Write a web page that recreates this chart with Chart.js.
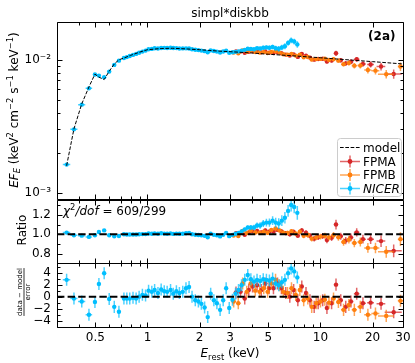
<!DOCTYPE html>
<html>
<head>
<meta charset="utf-8">
<script src="https://cdn.jsdelivr.net/npm/chart.js@4.4.1/dist/chart.umd.min.js"></script>
<style>
  html, body { margin: 0; padding: 0; background: #fff; }
  #wrap { position: relative; width: 415px; height: 363px; overflow: hidden; }
  canvas { position: absolute; left: 0; }
</style>
</head>
<body>
<div id="wrap">
  <canvas id="cFlux" width="415" height="201" style="top:0px"></canvas>
  <canvas id="cRatio" width="415" height="83" style="top:190px"></canvas>
  <canvas id="cResid" width="415" height="110" style="top:253px"></canvas>
</div>
<script>
// ---- data ----
const nicerE = [0.341, 0.376, 0.417, 0.459, 0.497, 0.524, 0.562, 0.601, 0.643, 0.684, 0.731,
  0.76, 0.79, 0.825, 0.86, 0.895, 0.935, 0.975, 1.015, 1.06, 1.10,
  1.15, 1.20, 1.25, 1.30, 1.36, 1.41, 1.47, 1.53, 1.60, 1.67,
  1.74, 1.81, 1.89, 1.97, 2.05, 2.14, 2.23, 2.32, 2.42, 2.52,
  2.63, 2.74, 2.85, 2.97, 3.10, 3.23, 3.36, 3.50, 3.65, 3.80,
  3.96, 4.13, 4.30, 4.48, 4.67, 4.87, 5.07, 5.29, 5.51, 5.74,
  5.98, 6.23, 6.50, 6.77, 7.05, 7.35];
const nicerEerr = [0.017, 0.018, 0.02, 0.02, 0.012, 0.012, 0.015, 0.015, 0.015, 0.015, 0.015,
  0.015, 0.016, 0.017, 0.017, 0.018, 0.019, 0.02, 0.02, 0.021, 0.022,
  0.023, 0.024, 0.025, 0.026, 0.027, 0.028, 0.029, 0.03, 0.032, 0.033,
  0.035, 0.036, 0.038, 0.039, 0.041, 0.043, 0.045, 0.046, 0.048, 0.05,
  0.053, 0.055, 0.057, 0.06, 0.062, 0.065, 0.067, 0.07, 0.073, 0.076,
  0.079, 0.083, 0.086, 0.09, 0.093, 0.097, 0.1, 0.11, 0.11, 0.115,
  0.12, 0.125, 0.13, 0.135, 0.14, 0.15];
const nicerFlux = [1.63e-3, 3.0e-3, 4.6e-3, 6.1e-3, 7.75e-3, 7.6e-3, 7.4e-3, 8.15e-3, 9.15e-3, 9.85e-3, 1.03e-2,
  1.047e-2, 1.067e-2, 1.088e-2, 1.107e-2, 1.13e-2, 1.152e-2, 1.172e-2, 1.20e-2, 1.207e-2, 1.221e-2,
  1.216e-2, 1.227e-2, 1.229e-2, 1.227e-2, 1.231e-2, 1.225e-2, 1.224e-2, 1.216e-2, 1.217e-2, 1.218e-2,
  1.216e-2, 1.20e-2, 1.189e-2, 1.182e-2, 1.172e-2, 1.161e-2, 1.14e-2, 1.176e-2, 1.163e-2, 1.152e-2,
  1.134e-2, 1.153e-2, 1.171e-2, 1.128e-2, 1.138e-2, 1.147e-2, 1.156e-2, 1.169e-2, 1.187e-2, 1.209e-2,
  1.204e-2, 1.198e-2, 1.221e-2, 1.215e-2, 1.232e-2, 1.238e-2, 1.232e-2, 1.248e-2, 1.221e-2, 1.21e-2,
  1.237e-2, 1.264e-2, 1.339e-2, 1.398e-2, 1.37e-2, 1.305e-2];
const nicerRatio = [1.017, 0.99, 0.986, 0.973, 0.99, 1.024, 1.04, 0.99, 0.98, 0.983, 1.0,
  0.997, 0.997, 0.998, 0.997, 1.0, 1.002, 1.002, 1.008, 1.006, 1.009,
  1.005, 1.01, 1.007, 1.006, 1.009, 1.004, 1.007, 1.005, 1.006, 1.011,
  1.013, 1.0, 0.995, 0.993, 0.989, 0.984, 0.97, 1.005, 0.994, 0.989,
  0.978, 0.994, 1.014, 0.981, 0.994, 1.006, 1.014, 1.03, 1.05, 1.07,
  1.07, 1.07, 1.09, 1.09, 1.11, 1.12, 1.12, 1.14, 1.12, 1.11,
  1.14, 1.17, 1.24, 1.30, 1.28, 1.22];
const nicerRatioErr = [0.006, 0.01, 0.012, 0.009, 0.011, 0.011, 0.01, 0.012, 0.011, 0.007, 0.01,
  0.009, 0.009, 0.008, 0.008, 0.008, 0.008, 0.008, 0.008, 0.008, 0.008,
  0.008, 0.008, 0.008, 0.008, 0.008, 0.008, 0.008, 0.008, 0.008, 0.008,
  0.008, 0.009, 0.009, 0.009, 0.009, 0.009, 0.009, 0.01, 0.01, 0.01,
  0.01, 0.01, 0.01, 0.01, 0.012, 0.012, 0.013, 0.015, 0.018, 0.02,
  0.024, 0.028, 0.03, 0.033, 0.036, 0.04, 0.042, 0.045, 0.05, 0.055,
  0.055, 0.06, 0.06, 0.065, 0.065, 0.07];
const nicerResid = [2.8, -0.3, -0.8, -3.0, -0.9, 2.1, 3.9, -0.4, -1.7, -2.5, -0.3,
  -0.3, -0.3, -0.2, -0.3, 0.0, 0.3, 0.2, 1.0, 0.8, 1.1,
  0.6, 1.2, 0.9, 0.8, 1.1, 0.5, 0.9, 0.6, 0.8, 1.4,
  1.6, 0.0, -0.6, -0.8, -1.2, -1.8, -3.4, 0.5, -0.6, -1.1,
  -2.2, -0.6, 1.4, -1.9, -0.5, 0.5, 1.1, 1.9, 2.8, 3.6,
  2.9, 2.5, 2.8, 2.6, 2.9, 2.8, 2.7, 3.0, 2.2, 1.9,
  2.4, 2.8, 3.9, 4.7, 4.2, 3.2];

const fpmaE = [3.25, 3.45, 3.65, 3.85, 4.05, 4.3, 4.55, 4.8, 5.05, 5.35, 5.65, 5.95, 6.3, 6.65, 7.0,
  7.4, 7.8, 8.25, 8.7, 9.2, 9.7, 10.3, 10.9, 11.6, 12.3, 13.1, 14.0, 15.0, 16.2, 17.6, 19.5, 22.4, 26.5];
const fpmaEerr = [0.1, 0.1, 0.1, 0.1, 0.12, 0.12, 0.12, 0.12, 0.15, 0.15, 0.15, 0.15, 0.17, 0.17, 0.2,
  0.2, 0.2, 0.22, 0.22, 0.25, 0.25, 0.3, 0.3, 0.35, 0.35, 0.4, 0.45, 0.5, 0.6, 0.7, 0.9, 1.3, 3.0];
const fpmaFlux = [1.154e-2, 1.152e-2, 1.128e-2, 1.150e-2, 1.160e-2, 1.159e-2, 1.137e-2, 1.154e-2, 1.130e-2, 1.125e-2,
  1.139e-2, 1.119e-2, 1.093e-2, 1.076e-2, 1.097e-2, 1.051e-2, 1.104e-2, 1.074e-2, 1.038e-2, 1.002e-2,
  1.012e-2, 1.018e-2, 9.69e-3, 9.88e-3, 1.12e-2, 9.92e-3, 9.40e-3, 9.65e-3, 1.008e-2, 9.31e-3,
  9.22e-3, 8.89e-3, 7.82e-3];
const fpmaRatio = [1.01, 1.012, 0.995, 1.018, 1.03, 1.035, 1.02, 1.04, 1.027, 1.027, 1.045, 1.03, 1.012, 1.0, 1.025,
  0.986, 1.04, 1.015, 0.985, 0.955, 0.97, 0.982, 0.94, 0.965, 1.10, 0.98, 0.935, 0.968, 1.02, 0.95, 0.95, 0.93, 0.83];
const fpmaRatioErr = [0.015, 0.015, 0.016, 0.016, 0.017, 0.018, 0.018, 0.019, 0.019, 0.02, 0.02, 0.021, 0.022, 0.022, 0.023,
  0.024, 0.025, 0.026, 0.027, 0.028, 0.029, 0.03, 0.031, 0.033, 0.05, 0.036, 0.038, 0.04, 0.043, 0.046, 0.05, 0.06, 0.065];
const fpmaResid = [0.7, 0.8, -0.3, 1.1, 1.7, 1.9, 1.1, 2.2, 1.4, 1.4, 2.2, 1.4, 0.6, 0.0, 1.1,
  -0.6, 1.7, 0.6, -0.6, -1.7, -1.1, -0.6, -1.9, -1.1, 2.0, -0.6, -1.7, -0.8, 0.5, -1.1, -1.0, -1.2, -2.6];

const fpmbE = [3.15, 3.35, 3.55, 3.75, 3.95, 4.2, 4.45, 4.7, 4.95, 5.2, 5.5, 5.8, 6.1, 6.45, 6.8,
  7.2, 7.6, 8.0, 8.45, 8.9, 9.45, 10.0, 10.6, 11.2, 11.9, 12.7, 13.6, 14.6, 15.7, 17.0, 18.8, 20.8, 24.0, 29.0];
const fpmbEerr = [0.1, 0.1, 0.1, 0.1, 0.1, 0.12, 0.12, 0.12, 0.12, 0.15, 0.15, 0.15, 0.15, 0.17, 0.17,
  0.2, 0.2, 0.2, 0.22, 0.22, 0.25, 0.3, 0.3, 0.3, 0.35, 0.4, 0.45, 0.5, 0.55, 0.65, 0.9, 1.1, 2.5, 1.0];
const fpmbFlux = [1.133e-2, 1.119e-2, 1.176e-2, 1.147e-2, 1.170e-2, 1.143e-2, 1.134e-2, 1.142e-2, 1.122e-2, 1.147e-2,
  1.159e-2, 1.132e-2, 1.101e-2, 1.092e-2, 1.108e-2, 1.075e-2, 1.093e-2, 1.044e-2, 1.048e-2, 1.005e-2,
  1.013e-2, 1.015e-2, 1.018e-2, 9.95e-3, 1.011e-2, 9.85e-3, 9.27e-3, 9.45e-3, 9.03e-3, 9.04e-3,
  8.37e-3, 8.28e-3, 7.79e-3, 8.89e-3];
const fpmbRatio = [0.988, 0.982, 1.035, 1.013, 1.037, 1.018, 1.015, 1.027, 1.015, 1.045, 1.06, 1.04, 1.017, 1.013, 1.032,
  1.007, 1.027, 0.985, 0.992, 0.955, 0.968, 0.976, 0.985, 0.968, 0.99, 0.97, 0.92, 0.945, 0.91, 0.92, 0.86, 0.86, 0.82, 0.95];
const fpmbRatioErr = [0.015, 0.015, 0.016, 0.016, 0.017, 0.018, 0.018, 0.019, 0.019, 0.02, 0.021, 0.021, 0.022, 0.022, 0.023,
  0.024, 0.025, 0.026, 0.027, 0.028, 0.029, 0.03, 0.031, 0.032, 0.034, 0.036, 0.038, 0.04, 0.042, 0.046, 0.05, 0.054, 0.06, 0.07];
const fpmbResid = [-0.8, -1.1, 2.2, 0.8, 2.2, 1.0, 0.8, 1.4, 0.8, 2.2, 2.8, 1.9, 0.8, 0.6, 1.4,
  0.3, 1.1, -0.6, -0.3, -1.7, -1.1, -0.8, -0.5, -1.0, -0.3, -0.9, -2.2, -1.4, -2.2, -1.7, -3.0, -2.8, -3.2, -0.7];

const modelE = [0.341, 0.376, 0.417, 0.459, 0.497, 0.524, 0.562, 0.601, 0.643, 0.684, 0.731, 0.8, 0.9, 1.0,
  1.2, 1.4, 1.7, 2.0, 2.5, 3.0, 4.0, 5.0, 7.0, 10, 15, 20, 30];
const modelFlux = [1.60e-3, 3.03e-3, 4.66e-3, 6.25e-3, 7.8e-3, 7.4e-3, 7.1e-3, 8.2e-3, 9.3e-3, 1.0e-2, 1.03e-2, 1.08e-2, 1.14e-2, 1.19e-2,
  1.215e-2, 1.22e-2, 1.205e-2, 1.19e-2, 1.165e-2, 1.15e-2, 1.125e-2, 1.10e-2, 1.07e-2, 1.035e-2, 9.95e-3, 9.68e-3, 9.3e-3];
const modelRatio = 1;
const modelResid = 0;
const residErr = 1;

const legendOrder = ['model', 'FPMA', 'FPMB', 'NICER'];
const eRange = [0.3, 30];
const fluxRange = [9.02e-4, 0.01922];
const ratioRange = [0.705, 1.352];
const residRange = [-5.05, 5.6];

const xMajor = [0.5, 1, 2, 3, 5, 10, 20, 30];
const xMinor = [0.3, 0.4, 0.6, 0.7, 0.8, 0.9, 4, 6, 7, 8, 9];
const fluxMajor = [1e-3, 1e-2];
const fluxMinor = [2e-3, 3e-3, 4e-3, 5e-3, 6e-3, 7e-3, 8e-3, 9e-3];
const ratioMajor = [0.8, 1.0, 1.2];
const ratioMinor = [0.7, 0.9, 1.1, 1.3];
const residMajor = [-4, -2, 0, 2, 4];
const residMinor = [-5, -3, -1, 1, 3, 5];

// ---- styling ----
const FONT = '"DejaVu Sans", sans-serif';
const COLORS = { FPMA: '#d62728', FPMB: '#ff7f0e', NICER: '#00bfff' };
Chart.defaults.font.family = FONT;
Chart.defaults.font.size = 12;
Chart.defaults.color = '#000';

function pts(xs, ys) { return xs.map((v, i) => ({ x: v, y: ys[i] })); }

function points(label, xs, ys, xerr, yerr) {
  return {
    label, data: pts(xs, ys), xerr, yerr, errColor: COLORS[label],
    showLine: false, pointRadius: 2.2, pointHoverRadius: 2.2,
    pointBackgroundColor: COLORS[label], pointBorderWidth: 0
  };
}

function refLine(level, width, dash) {
  return {
    label: 'model', data: [{ x: eRange[0], y: level }, { x: eRange[1], y: level }],
    showLine: true, borderColor: '#000', borderWidth: width, borderDash: dash, pointRadius: 0
  };
}

// error bars, drawn just before each dataset's markers
const errorBars = {
  id: 'errorBars',
  beforeDatasetDraw(chart, args) {
    const ds = chart.data.datasets[args.index];
    if (!ds.xerr) return;
    const { ctx, chartArea: a } = chart;
    const xs = chart.scales.x, ys = chart.scales.y;
    ctx.save();
    ctx.beginPath();
    ctx.rect(a.left, a.top, a.right - a.left, a.bottom - a.top);
    ctx.clip();
    ctx.strokeStyle = ds.errColor;
    ctx.globalAlpha = 0.7;
    ctx.lineWidth = 1.5;
    ctx.beginPath();
    ds.data.forEach((p, i) => {
      const px = xs.getPixelForValue(p.x), py = ys.getPixelForValue(p.y);
      ctx.moveTo(xs.getPixelForValue(p.x - ds.xerr[i]), py);
      ctx.lineTo(xs.getPixelForValue(p.x + ds.xerr[i]), py);
      ctx.moveTo(px, ys.getPixelForValue(p.y - ds.yerr[i]));
      ctx.lineTo(px, ys.getPixelForValue(p.y + ds.yerr[i]));
    });
    ctx.stroke();
    ctx.restore();
  }
};

// frame with inward major/minor ticks on all four sides
function frameTicks(yMaj, yMin) {
  return {
    id: 'frameTicks',
    afterDraw(chart) {
      const { ctx, chartArea: a } = chart;
      const xs = chart.scales.x, ys = chart.scales.y;
      const L = Math.round(a.left) + 0.5, R = Math.round(a.right) + 0.5;
      const T = Math.round(a.top) + 0.5, B = Math.round(a.bottom) + 0.5;
      ctx.save();
      ctx.strokeStyle = '#000';
      ctx.lineWidth = 1;
      ctx.beginPath();
      ctx.rect(L, T, R - L, B - T);
      const xt = (vals, len) => vals.forEach(v => {
        const p = Math.round(xs.getPixelForValue(v)) + 0.5;
        ctx.moveTo(p, B); ctx.lineTo(p, B - len);
        ctx.moveTo(p, T); ctx.lineTo(p, T + len);
      });
      const yt = (vals, len) => vals.forEach(v => {
        const p = Math.round(ys.getPixelForValue(v)) + 0.5;
        if (p < T || p > B) return;
        ctx.moveTo(L, p); ctx.lineTo(L + len, p);
        ctx.moveTo(R, p); ctx.lineTo(R - len, p);
      });
      xt(xMajor, 5); xt(xMinor, 3);
      yt(yMaj, 5); yt(yMin, 3);
      ctx.stroke();
      ctx.restore();
    }
  };
}

// text with italic / superscript / subscript pieces
function rich(ctx, segs, x, y, size, align) {
  const parts = segs.map(s => {
    const sz = (s.sup || s.sub) ? size * 0.7 : size;
    const font = (s.b ? 'bold ' : '') + (s.i ? 'italic ' : '') + sz + 'px ' + FONT;
    ctx.font = font;
    return { t: s.t, font, w: ctx.measureText(s.t).width, dy: s.sup ? -size * 0.36 : s.sub ? size * 0.22 : 0 };
  });
  const total = parts.reduce((acc, p) => acc + p.w, 0);
  let cx = align === 'center' ? x - total / 2 : align === 'right' ? x - total : x;
  ctx.textAlign = 'left';
  ctx.textBaseline = 'alphabetic';
  parts.forEach(p => { ctx.font = p.font; ctx.fillText(p.t, cx, y + p.dy); cx += p.w; });
}

function rotated(ctx, x, y, fn) {
  ctx.save();
  ctx.translate(x, y);
  ctx.rotate(-Math.PI / 2);
  fn();
  ctx.restore();
}

const supChars = { '-': '\u207B', '1': '\u00B9', '2': '\u00B2', '3': '\u00B3' };
const powerLabel = v => '10' + String(Math.round(Math.log10(v))).split('').map(c => supChars[c]).join('');
const minusLabel = v => (v < 0 ? '\u2212' + Math.abs(v) : String(v));

function yAxis(type, range, major, fmt) {
  return {
    type, min: range[0], max: range[1],
    grid: { display: false, drawTicks: false }, border: { display: false },
    ticks: { padding: 6, autoSkip: false, callback: fmt },
    afterBuildTicks: s => { s.ticks = major.map(v => ({ value: v })); },
    afterFit: s => { s.width = 57; s.paddingTop = 0; s.paddingBottom = 0; }
  };
}

const hiddenX = { type: 'logarithmic', min: eRange[0], max: eRange[1], display: false };
const baseOpts = { responsive: false, animation: false, devicePixelRatio: 1, events: [] };

// ---- panel 1: unfolded spectrum ----
const nicerFluxErr = nicerFlux.map((f, i) => f * nicerRatioErr[i] / nicerRatio[i]);
const fpmaFluxErr = fpmaFlux.map((f, i) => f * fpmaRatioErr[i] / fpmaRatio[i]);
const fpmbFluxErr = fpmbFlux.map((f, i) => f * fpmbRatioErr[i] / fpmbRatio[i]);

new Chart(document.getElementById('cFlux'), {
  type: 'scatter',
  data: {
    datasets: [
      { label: 'model', data: pts(modelE, modelFlux), showLine: true, borderColor: '#000',
        borderWidth: 1, borderDash: [3.7, 1.6], pointRadius: 0 },
      points('NICER', nicerE, nicerFlux, nicerEerr, nicerFluxErr),
      points('FPMB', fpmbE, fpmbFlux, fpmbEerr, fpmbFluxErr),
      points('FPMA', fpmaE, fpmaFlux, fpmaEerr, fpmaFluxErr)
    ]
  },
  options: {
    ...baseOpts,
    layout: { padding: { top: 22, right: 12, bottom: 1, left: 0 } },
    plugins: { legend: { display: false }, tooltip: { enabled: false } },
    scales: { x: hiddenX, y: yAxis('logarithmic', fluxRange, fluxMajor, powerLabel) }
  },
  plugins: [errorBars, frameTicks(fluxMajor, fluxMinor), {
    id: 'fluxText',
    afterDraw(chart) {
      const ctx = chart.ctx;
      ctx.save();
      ctx.fillStyle = '#000';
      rich(ctx, [{ t: 'simpl*diskbb' }], 230, 16.5, 12, 'center');
      rich(ctx, [{ t: '(2a)', b: true }], 395.5, 40, 12, 'right');
      rotated(ctx, 17.7, 110, () => rich(ctx, [
        { t: 'EF', i: true }, { t: 'E', i: true, sub: true }, { t: ' (keV' }, { t: '2', sup: true },
        { t: ' cm' }, { t: '\u22122', sup: true }, { t: ' s' }, { t: '\u22121', sup: true },
        { t: ' keV' }, { t: '\u22121', sup: true }, { t: ')' }], 0, 0, 12, 'center'));

      // legend
      const bx = 337.5, by = 138.5, bw = 64, bh = 58, r = 3;
      ctx.beginPath();
      ctx.moveTo(bx + r, by);
      ctx.arcTo(bx + bw, by, bx + bw, by + bh, r);
      ctx.arcTo(bx + bw, by + bh, bx, by + bh, r);
      ctx.arcTo(bx, by + bh, bx, by, r);
      ctx.arcTo(bx, by, bx + bw, by, r);
      ctx.closePath();
      ctx.fillStyle = 'rgba(255,255,255,0.8)';
      ctx.fill();
      ctx.strokeStyle = '#cccccc';
      ctx.lineWidth = 1;
      ctx.stroke();
      const rows = [147.5, 161.5, 175, 188.5];
      legendOrder.forEach((name, k) => {
        const yy = rows[k];
        if (name === 'model') {
          ctx.strokeStyle = '#000';
          ctx.lineWidth = 1;
          ctx.setLineDash([3.7, 1.6]);
          ctx.beginPath(); ctx.moveTo(340, yy); ctx.lineTo(360, yy); ctx.stroke();
          ctx.setLineDash([]);
        } else {
          ctx.strokeStyle = COLORS[name];
          ctx.fillStyle = COLORS[name];
          ctx.lineWidth = 1.5;
          ctx.globalAlpha = 0.7;
          ctx.beginPath();
          ctx.moveTo(340, yy); ctx.lineTo(360, yy);
          ctx.moveTo(350, yy - 6); ctx.lineTo(350, yy + 6);
          ctx.stroke();
          ctx.globalAlpha = 1;
          ctx.beginPath(); ctx.arc(350, yy, 2.4, 0, Math.PI * 2); ctx.fill();
        }
        ctx.fillStyle = '#000';
        rich(ctx, [{ t: name, i: name === 'NICER' }], 363, yy + 4.3, 12, 'left');
      });
      ctx.restore();
    }
  }]
});

// ---- panel 2: data / model ----
new Chart(document.getElementById('cRatio'), {
  type: 'scatter',
  data: {
    datasets: [
      refLine(modelRatio, 2, [7.4, 3.2]),
      points('NICER', nicerE, nicerRatio, nicerEerr, nicerRatioErr),
      points('FPMB', fpmbE, fpmbRatio, fpmbEerr, fpmbRatioErr),
      points('FPMA', fpmaE, fpmaRatio, fpmaEerr, fpmaRatioErr)
    ]
  },
  options: {
    ...baseOpts,
    layout: { padding: { top: 10, right: 12, bottom: 10, left: 0 } },
    plugins: { legend: { display: false }, tooltip: { enabled: false } },
    scales: { x: hiddenX, y: yAxis('linear', ratioRange, ratioMajor, v => v.toFixed(1)) }
  },
  plugins: [errorBars, frameTicks(ratioMajor, ratioMinor), {
    id: 'ratioText',
    afterDraw(chart) {
      const ctx = chart.ctx;
      ctx.save();
      ctx.fillStyle = '#000';
      rotated(ctx, 25.5, 40, () => rich(ctx, [{ t: 'Ratio' }], 0, 0, 12, 'center'));
      rich(ctx, [{ t: '\u03C7', i: true }, { t: '2', sup: true }, { t: '/dof', i: true }, { t: ' = 609/299' }],
        63, 24.5, 12, 'left');
      ctx.restore();
    }
  }]
});

// ---- panel 3: (data - model) / error ----
const nicerResidErr = nicerE.map(() => residErr);
const fpmaResidErr = fpmaE.map(() => residErr);
const fpmbResidErr = fpmbE.map(() => residErr);

new Chart(document.getElementById('cResid'), {
  type: 'scatter',
  data: {
    datasets: [
      refLine(modelResid, 2, [7.4, 3.2]),
      points('NICER', nicerE, nicerResid, nicerEerr, nicerResidErr),
      points('FPMB', fpmbE, fpmbResid, fpmbEerr, fpmbResidErr),
      points('FPMA', fpmaE, fpmaResid, fpmaEerr, fpmaResidErr)
    ]
  },
  options: {
    ...baseOpts,
    layout: { padding: { top: 10, right: 12, bottom: 0, left: 0 } },
    plugins: { legend: { display: false }, tooltip: { enabled: false } },
    scales: {
      x: {
        type: 'logarithmic', min: eRange[0], max: eRange[1],
        grid: { display: false, drawTicks: false }, border: { display: false },
        ticks: { padding: 4, autoSkip: false, maxRotation: 0, callback: v => String(v) },
        afterBuildTicks: s => { s.ticks = xMajor.map(v => ({ value: v })); },
        afterFit: s => { s.height = 36; s.paddingLeft = 0; s.paddingRight = 0; }
      },
      y: yAxis('linear', residRange, residMajor, minusLabel)
    }
  },
  plugins: [errorBars, frameTicks(residMajor, residMinor), {
    id: 'residText',
    afterDraw(chart) {
      const ctx = chart.ctx;
      ctx.save();
      ctx.fillStyle = '#000';
      // fraction label
      rotated(ctx, 24, 39, () => {
        rich(ctx, [{ t: 'data \u2212 model' }], 0, -1.8, 7, 'center');
        ctx.font = '7px ' + FONT;
        const w = ctx.measureText('data \u2212 model').width;
        ctx.fillRect(-w / 2, -0.4, w, 0.8);
        rich(ctx, [{ t: 'error' }], 0, 6, 7, 'center');
      });
      rich(ctx, [{ t: 'E', i: true }, { t: 'rest', sub: true }, { t: ' (keV)' }], 230, 104, 12, 'center');
      ctx.restore();
    }
  }]
});
</script>
</body>
</html>
